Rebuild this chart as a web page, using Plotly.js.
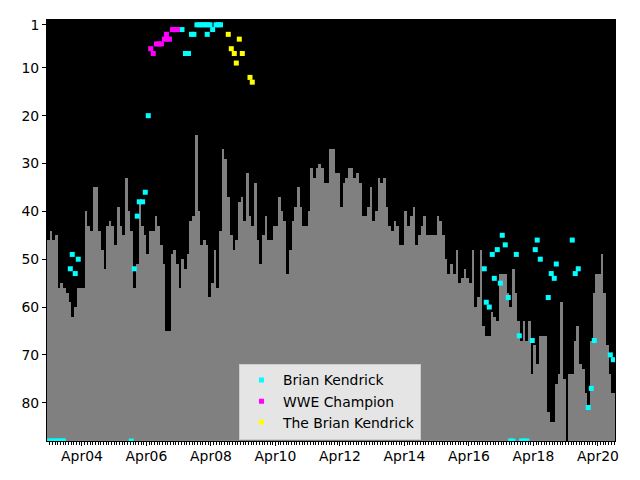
<!DOCTYPE html>
<html><head><meta charset="utf-8">
<script src="https://cdn.plot.ly/plotly-3.0.1.min.js"></script>
<style>body{margin:0;background:#fff;}</style>
</head><body>
<div id="chart" style="width:640px;height:480px;"></div>
<script>
// Monthly rank (gray area top), first month = March 2003
const firstYear = 2003, firstMonthIndex = 2;
const monthlyRank = [
  46,44,46,45,56,55,56,57,59,62,
  60,56,56,56,40,43,44,35,35,44,48,52,
  43,42,43,47,39,43,45,33,40,44,56,51,
  38,43,45,49,44,44,41,43,47,51,65,65,
  49,48,51,56,50,52,49,42,41,24,40,47,
  46,47,58,55,48,56,44,27,29,37,45,48,
  46,38,37,42,32,41,43,34,46,51,45,41,
  46,46,43,43,37,40,42,53,48,42,39,35,
  39,43,43,40,31,33,31,30,31,34,34,27,
  27,32,32,39,34,33,31,31,33,32,34,41,
  41,39,35,42,40,33,34,33,39,43,44,42,
  43,47,47,40,43,41,39,47,45,43,41,45,
  45,45,45,41,42,45,50,53,51,53,48,55,
  54,52,54,55,48,60,58,48,64,66,66,61,
  62,63,53,53,53,57,60,52,57,63,67,63,
  67,63,74,68,72,66,66,66,82,84,84,76,
  74,59,75,88,74,74,67,64,72,73,78,81,
  67,57,53,53,49,57,68,74,78,78
];

const kendrickDates = [
  '2003-03-20','2003-04-20','2003-05-20','2003-06-20','2003-07-20','2003-08-20','2003-09-05',
  '2003-11-21','2003-12-13','2004-01-16','2004-02-19',
  '2005-10-11','2005-11-14','2005-12-18','2006-01-10','2006-02-17','2006-03-19','2006-04-22',
  '2007-05-09','2007-06-17','2007-07-21','2007-08-24','2007-09-21',
  '2007-10-25','2007-11-24','2007-12-25','2008-01-24','2008-02-23','2008-03-21',
  '2008-02-19','2008-04-20','2008-05-28','2008-06-25','2008-07-18',
  '2016-09-21','2016-10-14','2016-11-17','2016-12-21','2017-01-13','2017-02-16','2017-03-22',
  '2017-04-13','2017-05-17','2017-06-20','2017-07-15','2017-08-12','2017-09-19','2017-10-23',
  '2017-11-17','2017-12-17','2018-01-18','2018-03-19','2018-04-22','2018-05-14','2018-06-18',
  '2018-09-16','2018-10-20','2018-11-23','2018-12-16','2019-06-15','2019-07-19','2019-08-22',
  '2019-12-13','2020-01-16','2020-02-19','2020-08-19','2020-09-22'
];
const kendrickRanks = [
  88,88,88,88,88,88,88,
  52,49,53,50,
  88,52,41,38,38,36,20,
  2,7,7,3,3,
  1,1,1,1,1,1,
  3,2,1,1,1,
  52,59,60,49,54,48,55,
  45,47,58,88,88,49,66,
  88,88,88,67,48,46,50,
  58,53,54,51,46,53,52,
  81,77,67,70,71
];

const championDates = [
  '2006-05-19','2006-06-17','2006-07-24','2006-08-21','2006-09-18',
  '2006-10-22','2006-11-20','2006-12-18','2006-11-14',
  '2007-01-21','2007-02-18','2007-03-19'
];
const championRanks = [6,7,5,5,5,4,4,4,3,2,2,2];

const theBrianDates = [
  '2008-10-14','2008-11-17','2008-12-21','2009-01-13','2009-02-16','2009-03-22','2009-06-17','2009-07-13'
];
const theBrianRanks = [3,6,7,9,4,7,12,13];

const xTickVals = ['2004-04-01','2006-04-01','2008-04-01','2010-04-01','2012-04-01','2014-04-01','2016-04-01','2018-04-01','2020-04-01'];
const xTickText = ['Apr04','Apr06','Apr08','Apr10','Apr12','Apr14','Apr16','Apr18','Apr20'];
const yTickVals = [1,10,20,30,40,50,60,70,80];

const monthDates = [], monthWidths = [];
for (let k = 0; k < monthlyRank.length; k++) {
  const a = Date.UTC(firstYear, firstMonthIndex + k, 1);
  const b = Date.UTC(firstYear, firstMonthIndex + k + 1, 1);
  monthDates.push(new Date(a).toISOString().slice(0, 10));
  monthWidths.push(b - a + 43200000);
}

const traces = [
  {
    type: 'bar', x: monthDates, y: monthlyRank, width: monthWidths, offset: 0,
    marker: {color: '#000000', line: {width: 0}}, showlegend: false, hoverinfo: 'skip'
  },
  {
    type: 'scatter', mode: 'markers', name: 'Brian Kendrick',
    x: kendrickDates, y: kendrickRanks,
    marker: {symbol: 'square', size: 5, color: '#00ffff'}
  },
  {
    type: 'scatter', mode: 'markers', name: 'WWE Champion',
    x: championDates, y: championRanks,
    marker: {symbol: 'square', size: 5, color: '#ff00ff'}
  },
  {
    type: 'scatter', mode: 'markers', name: 'The Brian Kendrick',
    x: theBrianDates, y: theBrianRanks,
    marker: {symbol: 'square', size: 5, color: '#ffff00'}
  }
];

const layout = {
  width: 640, height: 480,
  margin: {l: 47, r: 25, t: 20, b: 39, pad: 0},
  paper_bgcolor: '#ffffff', plot_bgcolor: '#808080',
  font: {family: 'DejaVu Sans', size: 13.9, color: '#000000'},
  bargap: 0,
  showlegend: true,
  xaxis: {
    type: 'date', range: ['2003-03-02', '2020-10-11'],
    tickmode: 'array', tickvals: xTickVals, ticktext: xTickText,
    ticks: 'outside', ticklen: 4, tickwidth: 1, tickcolor: '#000000',
    ticklabelstandoff: -2,
    showgrid: false, zeroline: false,
    showline: true, linecolor: '#000000', linewidth: 1, mirror: true,
    minor: {tick0: '2003-03-01', dtick: 'M1', ticks: 'outside', ticklen: 2.5, tickwidth: 1, tickcolor: '#000000', showgrid: false}
  },
  yaxis: {
    range: [88, 0], tickmode: 'array', tickvals: yTickVals,
    ticks: 'outside', ticklen: 4, tickwidth: 1, tickcolor: '#000000',
    showgrid: false, zeroline: false,
    showline: true, linecolor: '#000000', linewidth: 1, mirror: true
  },
  legend: {
    x: 0.338, y: 0.184, xanchor: 'left', yanchor: 'top',
    itemwidth: 33,
    bgcolor: '#e5e5e5', bordercolor: '#cccccc', borderwidth: 1,
    font: {family: 'DejaVu Sans', size: 13.9, color: '#000000'}
  }
};

Plotly.newPlot('chart', traces, layout, {displayModeBar: false, staticPlot: true});
</script>
</body></html>
